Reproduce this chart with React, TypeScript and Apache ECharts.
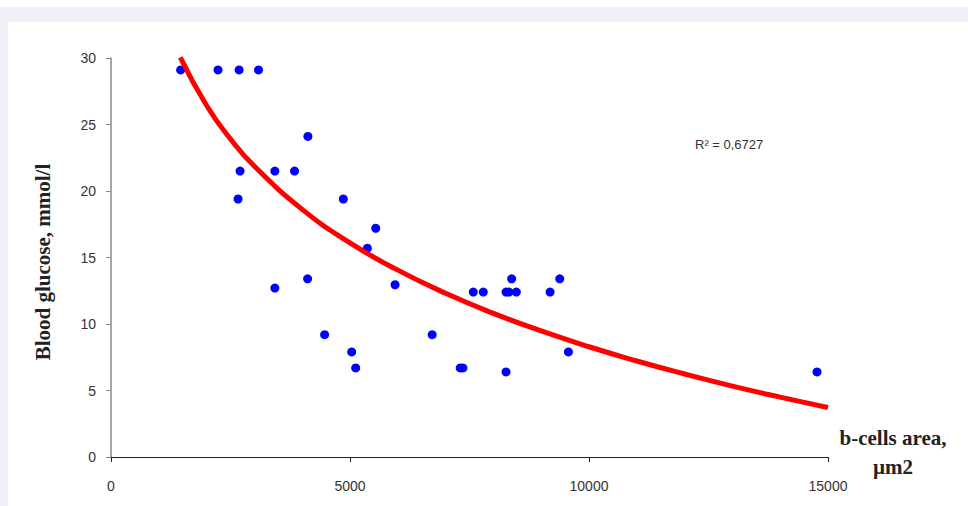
import React, { useEffect, useRef } from "react";
import * as echarts from "echarts";

// Scatter data: b-cells area (µm2) and blood glucose (mmol/l)
const areaValues = [
  1457, 2239, 2680, 3086, 4119, 2700, 3428, 3840, 2658, 4860, 5538, 5363,
  3428, 4113, 5943, 4469, 5035, 5119, 6719, 7306, 7362, 7579, 7788, 8264,
  8327, 8480, 8382, 9186, 9388, 9570, 8264, 14770,
];
const glucoseValues = [
  29.1, 29.1, 29.1, 29.1, 24.1, 21.5, 21.5, 21.5, 19.4, 19.4, 17.2, 15.7,
  12.7, 13.4, 12.95, 9.2, 7.9, 6.7, 9.2, 6.7, 6.7, 12.4, 12.4, 12.4,
  12.4, 12.4, 13.4, 12.4, 13.4, 7.9, 6.4, 6.4,
];

// Logarithmic trend line
const trendX = [1450, 2000, 2500, 3000, 4000, 5000, 6000, 7000, 8000, 9000, 10000, 11000, 12000, 13000, 14000, 15000];
const trendY = [30.05, 26.43, 23.91, 21.86, 18.62, 16.1, 14.05, 12.31, 10.8, 9.48, 8.29, 7.22, 6.24, 5.33, 4.5, 3.72];

const rSquaredText = "R² = 0,6727";
const yTitle = "Blood glucose, mmol/l";
const xTitleLines = ["b-cells area,", "µm2"];

const sans = '"Liberation Sans", Arial, sans-serif';
const serif = '"Liberation Serif", "Times New Roman", serif';

export default function App() {
  const ref = useRef<HTMLDivElement>(null);

  useEffect(() => {
    if (!ref.current) return;
    const chart = echarts.init(ref.current, undefined, { renderer: "svg" });
    const scatterData = areaValues.map((x, i) => [x, glucoseValues[i]]);
    const trendData = trendX.map((x, i) => [x, trendY[i]]);
    chart.setOption({
      animation: false,
      backgroundColor: "transparent",
      grid: { left: 111, top: 58, width: 717, height: 399, containLabel: false },
      xAxis: {
        type: "value",
        min: 0,
        max: 15000,
        interval: 5000,
        axisLine: { show: true, lineStyle: { color: "#222", width: 1 } },
        axisTick: { show: true, length: 5, lineStyle: { color: "#222" } },
        axisLabel: {
          color: "#333",
          fontFamily: sans,
          fontSize: 14,
          margin: 22,
          formatter: (v: number) => String(v),
        },
        splitLine: { show: false },
      },
      yAxis: {
        type: "value",
        min: 0,
        max: 30,
        interval: 5,
        axisLine: { show: true, lineStyle: { color: "#888", width: 1.5 } },
        axisTick: { show: true, length: 5, lineStyle: { color: "#888" } },
        axisLabel: { color: "#333", fontFamily: sans, fontSize: 14, margin: 15 },
        splitLine: { show: false },
      },
      series: [
        {
          type: "scatter",
          data: scatterData,
          symbol: "circle",
          symbolSize: 9,
          itemStyle: { color: "#0000ff", opacity: 1 },
          z: 2,
        },
        {
          type: "line",
          data: trendData,
          smooth: true,
          showSymbol: false,
          clip: true,
          lineStyle: { color: "#ff0000", width: 5 },
          z: 3,
        },
      ],
      graphic: [
        {
          type: "text",
          x: 43,
          y: 262,
          rotation: Math.PI / 2,
          style: {
            text: yTitle,
            font: `bold 21px ${serif}`,
            fill: "#222",
            textAlign: "center",
            textVerticalAlign: "middle",
          },
        },
        {
          type: "text",
          x: 893,
          y: 438,
          style: {
            text: xTitleLines[0],
            font: `bold 21px ${serif}`,
            fill: "#222",
            textAlign: "center",
            textVerticalAlign: "middle",
          },
        },
        {
          type: "text",
          x: 893,
          y: 467,
          style: {
            text: xTitleLines[1],
            font: `bold 21px ${serif}`,
            fill: "#222",
            textAlign: "center",
            textVerticalAlign: "middle",
          },
        },
        {
          type: "text",
          x: 695,
          y: 144,
          style: {
            text: rSquaredText,
            font: `13px ${sans}`,
            fill: "#333",
            textAlign: "left",
            textVerticalAlign: "middle",
          },
        },
      ],
    });
    return () => chart.dispose();
  }, []);

  return (
    <div style={{ position: "fixed", left: 0, top: 0, width: 968, height: 506, background: "#ffffff", overflow: "hidden" }}>
      <div style={{ position: "absolute", left: 0, top: 7, width: 968, height: 499, background: "#f0f1f6" }} />
      <div style={{ position: "absolute", left: 8, top: 22, width: 960, height: 484, background: "#ffffff" }} />
      <div ref={ref} style={{ position: "absolute", left: 0, top: 0, width: 968, height: 506 }} />
    </div>
  );
}
